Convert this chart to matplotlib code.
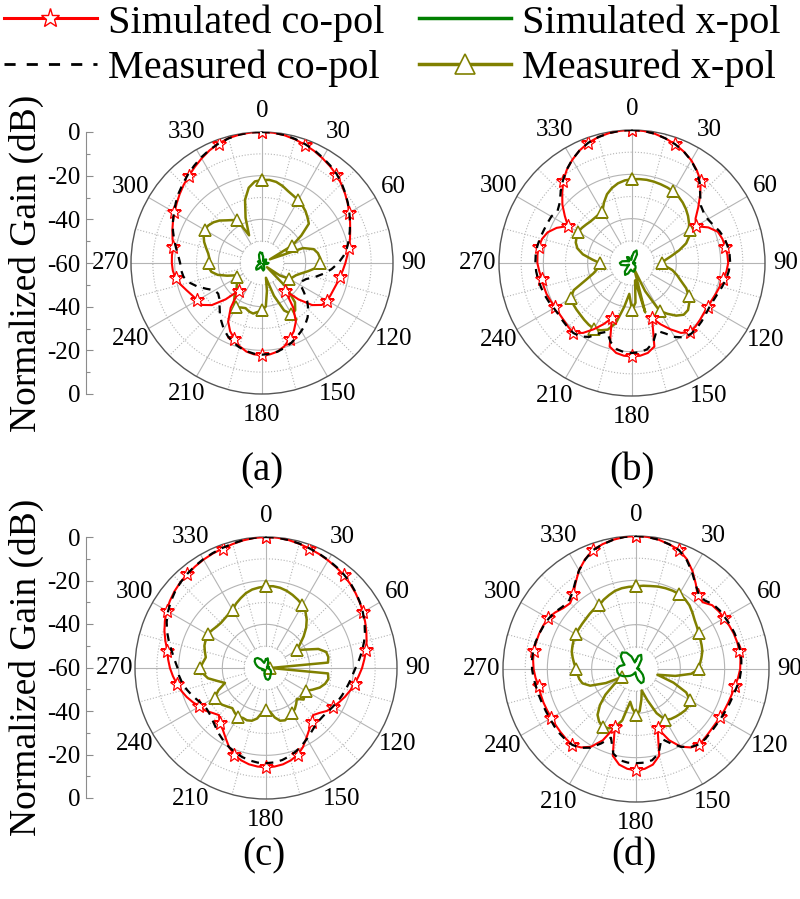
import numpy as np
import matplotlib.pyplot as plt
from matplotlib.lines import Line2D

plt.rcParams['font.family'] = 'serif'
plt.rcParams['font.serif'] = ['Liberation Serif', 'Times New Roman', 'DejaVu Serif']

# angles (deg, clockwise from top); co-pol / measured x-pol at 5 deg, simulated x-pol at 10 deg
theta_deg = np.arange(0, 360, 5)
theta_x_deg = np.arange(0, 360, 10)
angle_labels = list(range(0, 360, 30))
gain_labels = ['0', '-20', '-40', '-60', '-40', '-20', '0']
captions = ['(a)', '(b)', '(c)', '(d)']

# ---- (a) ----
a_sim_co = [0, -0.1, -0.6, -1.4, -2.4, -3.4, -4.6, -5.8, -7.1, -8.7, -10.4, -12.1,
            -13.9, -15.5, -17.0, -18.3, -19.6, -20.8, -21.8, -22.8, -23.7, -24.4, -25.0, -25.3,
            -25.5, -26.5, -30.0, -36.5, -43.5, -35.0, -29.0, -25.5, -23.0, -20.5, -18.8, -18.0,
            -17.7, -18.0, -18.8, -20.5, -23.0, -25.5, -29.0, -35.0, -43.5, -36.5, -30.0, -26.5,
            -25.8, -24.8, -23.3, -21.5, -19.8, -19.0, -18.7, -18.6, -18.8, -17.6, -16.3, -15.0,
            -13.7, -12.3, -10.8, -9.3, -7.9, -6.3, -4.7, -3.1, -1.8, -0.8, -0.3, 0]
a_meas_co = [0, -0.1, -0.5, -1.2, -2.1, -3.1, -4.3, -5.5, -6.8, -8.4, -10.2, -12.0,
             -13.8, -15.5, -17.2, -18.8, -20.5, -22.5, -25.0, -28.0, -31.5, -35.0, -38.5, -40.0,
             -39.5, -36.5, -33.0, -30.0, -27.5, -25.5, -24.0, -22.5, -21.0, -19.8, -18.8, -18.2,
             -18.0, -18.3, -19.0, -20.0, -21.3, -23.0, -25.0, -27.5, -30.0, -32.5, -34.5, -35.5,
             -35.0, -32.0, -28.5, -25.5, -23.5, -22.8, -22.5, -21.5, -20.0, -18.3, -16.6, -15.0,
             -13.4, -11.8, -10.2, -8.7, -7.2, -5.7, -4.2, -2.9, -1.8, -0.9, -0.3, 0]
a_meas_x = [-22.0, -21.8, -22.3, -23.5, -25.0, -26.0, -26.8, -27.8, -29.0, -30.5, -32.0, -38.0,
            -44.0, -56.0, -40.0, -35.5, -34.0, -33.3, -33.3, -35.0, -38.5, -41.5, -43.5, -44.5,
            -45.5, -50.0, -57.0, -44.0, -36.5, -33.5, -33.0, -36.0, -44.0, -53.0, -47.0, -40.0,
            -38.3, -37.5, -36.5, -37.0, -38.0, -37.5, -36.5, -37.5, -40.5, -43.5, -45.0, -46.0,
            -46.8, -46.6, -43.0, -39.0, -36.5, -35.5, -35.6, -35.8, -35.0, -33.5, -31.8, -30.5,
            -29.6, -30.0, -31.0, -32.5, -34.5, -36.0, -37.3, -46.0, -38.0, -30.0, -25.0, -22.5]
a_sim_x = [-55.5, -57, -58.5, -59, -58, -57.5, -58, -59, -58.5, -57, -57.5, -58.5,
           -59, -59.5, -59, -58, -57, -56.5, -57.5, -58.5, -58, -57, -56, -56.5,
           -57.5, -58.5, -59.5, -59, -58.5, -58, -58.5, -59, -58.5, -57.5, -56, -55]

# ---- (b) ----
b_sim_co = [0, -0.2, -0.8, -1.8, -3.0, -4.6, -6.5, -9.0, -11.8, -16.5, -21.0, -25.0,
            -26.8, -22.0, -18.8, -17.8, -17.3, -16.8, -16.6, -17.2, -18.2, -19.0, -19.7, -20.3,
            -20.6, -20.5, -20.0, -19.5, -19.3, -21.5, -25.5, -29.5, -33.5, -21.0, -18.8, -18.0,
            -17.9, -18.0, -18.8, -21.0, -33.5, -29.5, -25.5, -21.5, -18.8, -19.3, -19.8, -20.0,
            -20.0, -19.5, -19.0, -18.8, -18.6, -18.0, -17.3, -17.2, -17.3, -18.0, -19.5, -22.5,
            -26.6, -23.0, -19.0, -15.5, -11.7, -8.7, -6.2, -4.0, -2.3, -1.2, -0.5, -0.1]
b_meas_co = [0, -0.2, -0.8, -1.8, -3.0, -4.6, -6.6, -9.2, -12.5, -16.5, -19.5, -20.5,
             -20.5, -19.5, -18.0, -16.8, -16.2, -15.8, -15.7, -16.2, -17.0, -18.0, -19.0, -19.6,
             -19.8, -19.5, -19.0, -18.6, -18.4, -19.0, -21.5, -25.0, -27.5, -23.0, -20.5, -19.6,
             -19.4, -19.6, -20.5, -23.0, -27.0, -25.0, -21.5, -19.5, -18.8, -19.0, -19.3, -19.5,
             -19.3, -18.6, -18.0, -17.5, -17.0, -16.6, -16.4, -16.4, -16.6, -17.0, -17.5, -17.8,
             -18.0, -19.0, -17.5, -14.5, -11.5, -8.6, -6.1, -4.0, -2.3, -1.2, -0.5, -0.1]
b_meas_x = [-22.2, -22.0, -21.9, -22.0, -22.2, -22.4, -22.7, -23.4, -24.4, -25.6, -27.0, -28.6,
            -30.0, -31.5, -34.0, -38.0, -42.0, -45.0, -46.3, -45.0, -41.5, -39.0, -36.5, -33.0,
            -30.5, -28.5, -27.0, -27.0, -29.0, -32.0, -35.0, -46.0, -57.0, -37.0, -52.0, -42.0,
            -38.8, -46.0, -40.0, -32.0, -28.0, -26.5, -25.7, -26.0, -26.5, -27.0, -27.3, -27.6,
            -28.0, -31.0, -38.0, -42.0, -44.0, -45.0, -45.4, -42.0, -37.5, -34.5, -33.0, -32.4,
            -32.0, -32.4, -33.0, -33.5, -33.6, -33.5, -33.3, -30.0, -27.0, -25.0, -23.5, -22.6]
b_sim_x = [-57, -55, -54, -55.5, -58, -59, -59.5, -59.5, -59, -58.5, -59, -59.5,
           -59, -58, -57.5, -57, -56.5, -56, -56.5, -57, -55, -53.8, -55, -57.5,
           -58.5, -57, -55, -54.5, -55.5, -57.5, -58.5, -57.5, -56.5, -57, -58.5, -58.5]

# ---- (c) ----
c_sim_co = [0, -0.1, -0.5, -1.1, -1.8, -2.4, -3.1, -3.8, -4.5, -5.5, -6.5, -7.6,
            -8.7, -9.9, -11.1, -12.3, -13.5, -14.8, -16.0, -17.4, -18.7, -20.1, -21.5, -23.0,
            -24.5, -25.8, -28.0, -29.5, -27.5, -25.5, -23.0, -20.0, -17.6, -16.2, -15.2, -14.7,
            -14.5, -14.7, -15.2, -16.2, -17.6, -20.0, -23.0, -25.5, -27.0, -29.5, -28.0, -26.0,
            -24.8, -23.0, -21.3, -19.8, -18.5, -17.2, -16.0, -15.0, -14.1, -12.3, -10.5, -8.9,
            -7.4, -6.3, -5.3, -4.5, -3.9, -3.3, -2.7, -2.2, -1.8, -1.2, -0.6, -0.2]
c_meas_co = [0, -0.1, -0.5, -1.0, -1.7, -2.3, -2.9, -3.6, -4.3, -5.2, -6.3, -7.5,
             -8.8, -10.2, -11.8, -13.5, -15.3, -17.2, -19.0, -20.3, -21.3, -22.2, -23.0, -23.8,
             -24.6, -25.3, -25.8, -25.8, -25.2, -24.0, -22.5, -21.0, -19.5, -18.2, -17.2, -16.6,
             -16.4, -16.5, -17.0, -17.8, -18.8, -20.0, -21.3, -22.8, -24.3, -25.6, -26.6, -27.0,
             -26.6, -25.3, -23.8, -22.3, -21.0, -20.0, -19.5, -18.0, -16.2, -14.0, -11.8, -9.8,
             -8.2, -6.8, -5.6, -4.6, -3.8, -3.1, -2.5, -2.0, -1.5, -1.0, -0.5, -0.1]
c_meas_x = [-22.6, -22.4, -22.7, -23.4, -24.4, -25.5, -26.7, -28.5, -31.0, -34.0, -37.5, -41.0,
            -43.6, -40.0, -34.5, -31.5, -31.0, -31.5, -58.0, -31.5, -31.0, -32.0, -33.8, -36.5,
            -39.0, -38.5, -37.5, -40.0, -38.5, -37.0, -36.3, -35.5, -34.5, -35.0, -37.0, -40.0,
            -40.9, -39.5, -36.5, -35.0, -34.5, -34.8, -34.1, -35.0, -36.0, -35.0, -33.8, -33.2,
            -32.9, -36.0, -40.0, -37.0, -33.0, -31.0, -29.8, -31.0, -32.0, -31.0, -30.0, -29.5,
            -29.1, -29.8, -30.5, -30.8, -30.5, -30.0, -29.4, -27.5, -26.0, -24.5, -23.5, -23.0]
c_sim_x = [-56, -55.5, -57, -58.5, -59, -59.5, -59, -58.5, -59, -59.5, -59, -58,
           -57.5, -57, -56.5, -56, -55, -54.5, -55, -56.5, -58, -59, -59, -58.5,
           -58, -58.5, -58, -57, -56, -55, -54, -53.5, -54, -55.5, -57.5, -57]

# ---- (d) ----
d_sim_co = [0, -0.2, -0.8, -1.8, -2.9, -5.5, -9.0, -13.0, -16.7, -17.4, -15.2, -14.5,
            -14.1, -13.6, -13.1, -12.8, -12.6, -12.7, -13.0, -13.8, -14.8, -15.3, -15.7, -16.0,
            -16.3, -16.5, -16.4, -16.0, -15.5, -16.8, -19.5, -24.5, -31.5, -19.5, -16.2, -14.8,
            -14.3, -14.8, -16.2, -19.5, -32.0, -24.5, -19.5, -16.8, -15.2, -15.4, -15.6, -15.8,
            -15.9, -15.8, -15.6, -15.5, -15.4, -14.5, -13.8, -13.4, -13.2, -13.3, -13.5, -13.8,
            -14.1, -15.5, -17.2, -18.0, -16.1, -12.5, -8.6, -5.5, -2.9, -1.7, -0.8, -0.2]
d_meas_co = [0, -0.2, -0.8, -1.8, -3.0, -5.8, -9.5, -13.2, -16.0, -16.2, -14.6, -13.9,
             -13.6, -13.1, -12.7, -12.4, -12.3, -12.3, -12.5, -13.0, -13.8, -14.5, -15.0, -15.4,
             -15.7, -15.9, -15.8, -15.6, -15.6, -17.0, -19.5, -23.0, -26.5, -20.5, -18.2, -17.6,
             -17.5, -17.6, -18.2, -20.5, -27.0, -23.0, -19.0, -16.6, -15.3, -15.0, -14.9, -15.0,
             -15.2, -15.1, -14.9, -14.6, -14.2, -13.6, -13.1, -12.9, -12.9, -13.1, -13.5, -14.0,
             -14.5, -15.3, -16.5, -17.0, -15.3, -12.2, -8.6, -5.6, -3.0, -1.8, -0.8, -0.2]
d_meas_x = [-22.7, -22.3, -22.0, -21.5, -21.2, -21.0, -21.0, -21.5, -22.5, -24.0, -25.5, -26.5,
            -27.4, -28.0, -28.5, -29.0, -30.0, -31.0, -31.7, -35.0, -42.0, -50.0, -42.0, -35.0,
            -31.9, -31.0, -31.0, -31.5, -32.0, -32.5, -33.5, -38.0, -45.0, -50.0, -46.0, -41.0,
            -39.4, -42.0, -45.0, -36.0, -32.0, -30.5, -30.0, -31.0, -33.0, -37.0, -42.0, -48.0,
            -52.9, -45.0, -38.0, -35.0, -34.0, -33.5, -33.1, -32.0, -31.0, -30.0, -29.5, -29.0,
            -28.6, -28.5, -28.3, -28.0, -27.5, -27.0, -26.8, -25.5, -24.5, -23.5, -23.0, -22.8]
d_sim_x = [-56, -54, -53.2, -55, -58, -59, -59.5, -59.5, -59, -58.5, -59, -58.5,
           -57.5, -56, -54.5, -53.3, -53.2, -55, -57, -58.5, -58, -57, -56, -55,
           -53.5, -52, -51.5, -51.4, -52.5, -54.5, -53, -51, -50.3, -51.5, -54, -57]

RED = '#ff0000'
GREEN = '#007f00'
OLIVE = '#808000'
R0 = 60  # -60 dB sits at the centre


def closed(theta, vals):
    # close the pattern and shift dB so that -60 dB -> r = 0
    t = np.deg2rad(np.append(theta, 360))
    r = np.append(vals, vals[0]) + R0
    return t, r


def setup_polar(ax):
    ax.set_theta_zero_location('N')
    ax.set_theta_direction(-1)
    ax.set_ylim(0, R0)
    ax.set_xticks([])
    ax.set_yticks([])
    ax.spines['polar'].set_color('#555555')
    ax.spines['polar'].set_linewidth(1.0)
    tt = np.linspace(0, 2 * np.pi, 361)
    for db in (-50, -40, -30, -20, -10):
        ls = '-' if db in (-40, -20) else ':'
        ax.plot(tt, np.full_like(tt, db + R0), color='#b4b4b4', lw=0.8, ls=ls, zorder=1)
    for a in range(0, 360, 15):
        ls = '-' if a % 30 == 0 else ':'
        ax.plot([np.deg2rad(a)] * 2, [10, R0], color='#b4b4b4', lw=0.8, ls=ls, zorder=1)
    for a in angle_labels:
        ax.text(np.deg2rad(a), 69.5, str(a), ha='center', va='center', fontsize=18)


def draw_panel(ax, sim_co, meas_co, sim_x, meas_x):
    setup_polar(ax)
    t, r = closed(theta_deg, meas_x)
    ax.plot(t, r, color=OLIVE, lw=1.8, marker='^', ms=9, mfc='white', mec=OLIVE,
            mew=1.1, markevery=6, zorder=3)
    t, r = closed(theta_x_deg, sim_x)
    ax.plot(t, r, color=GREEN, lw=1.6, zorder=4)
    t, r = closed(theta_deg, sim_co)
    ax.plot(t, r, color=RED, lw=1.5, marker='*', ms=10, mfc='white', mec=RED,
            mew=0.9, markevery=4, zorder=5)
    t, r = closed(theta_deg, meas_co)
    ax.plot(t, r, color='black', lw=1.6, ls=(0, (3.5, 3)), zorder=6)


fig = plt.figure(figsize=(8, 8.99), dpi=100)

# polar axes positions in figure fractions
positions = [
    [131 / 800, 505 / 899, 262 / 800, 262 / 899],
    [499 / 800, 503 / 899, 266 / 800, 266 / 899],
    [135 / 800, 100 / 899, 262 / 800, 262 / 899],
    [503 / 800, 97 / 899, 266 / 800, 266 / 899],
]
panel_data = [
    (a_sim_co, a_meas_co, a_sim_x, a_meas_x),
    (b_sim_co, b_meas_co, b_sim_x, b_meas_x),
    (c_sim_co, c_meas_co, c_sim_x, c_meas_x),
    (d_sim_co, d_meas_co, d_sim_x, d_meas_x),
]
for pos, data in zip(positions, panel_data):
    ax = fig.add_axes(pos, projection='polar')
    draw_panel(ax, *data)

# captions
caption_xy = [(262, 471), (632, 471), (264, 856), (634, 856)]
for (cx, cy), cap in zip(caption_xy, captions):
    fig.text(cx / 800, 1 - cy / 899, cap, ha='center', va='center', fontsize=28)

# left gain scales
for y_bottom, height in [(394, 262), (798, 261)]:
    lax = fig.add_axes([86 / 800, 1 - y_bottom / 899, 0.0005, height / 899])
    lax.set_ylim(-60, 60)
    for side in ('top', 'right', 'bottom'):
        lax.spines[side].set_visible(False)
    lax.spines['left'].set_color('#8c8c8c')
    lax.set_xticks([])
    lax.set_yticks(np.arange(-60, 61, 20))
    lax.set_yticklabels(gain_labels[::-1])
    lax.set_yticks(np.arange(-50, 60, 20), minor=True)
    lax.tick_params(axis='y', which='major', direction='in', length=5, width=0.8,
                    color='#8c8c8c', labelsize=18, pad=4)
    lax.tick_params(axis='y', which='minor', direction='in', length=3, width=0.8,
                    color='#8c8c8c')
    lax.set_ylabel('Normalized Gain (dB)', fontsize=27, labelpad=2)

# legend
handles = [
    Line2D([], [], color=RED, lw=2.2, marker='*', ms=14, mfc='white', mec=RED, mew=1.0),
    Line2D([], [], color='black', lw=2.0, ls=(0, (4, 4))),
    Line2D([], [], color=GREEN, lw=2.5),
    Line2D([], [], color=OLIVE, lw=2.5, marker='^', ms=14, mfc='white', mec=OLIVE, mew=1.2),
]
labels = ['Simulated co-pol', 'Measured co-pol', 'Simulated x-pol', 'Measured x-pol']
fig.legend(handles, labels, ncol=2, loc='upper left', bbox_to_anchor=(0.0, 1.0),
           frameon=False, fontsize=29, handlelength=2.3, handletextpad=0.28,
           columnspacing=0.85, borderaxespad=0, borderpad=0.1, labelspacing=0.2,
           numpoints=1)

fig.savefig('out.png', dpi=100)
